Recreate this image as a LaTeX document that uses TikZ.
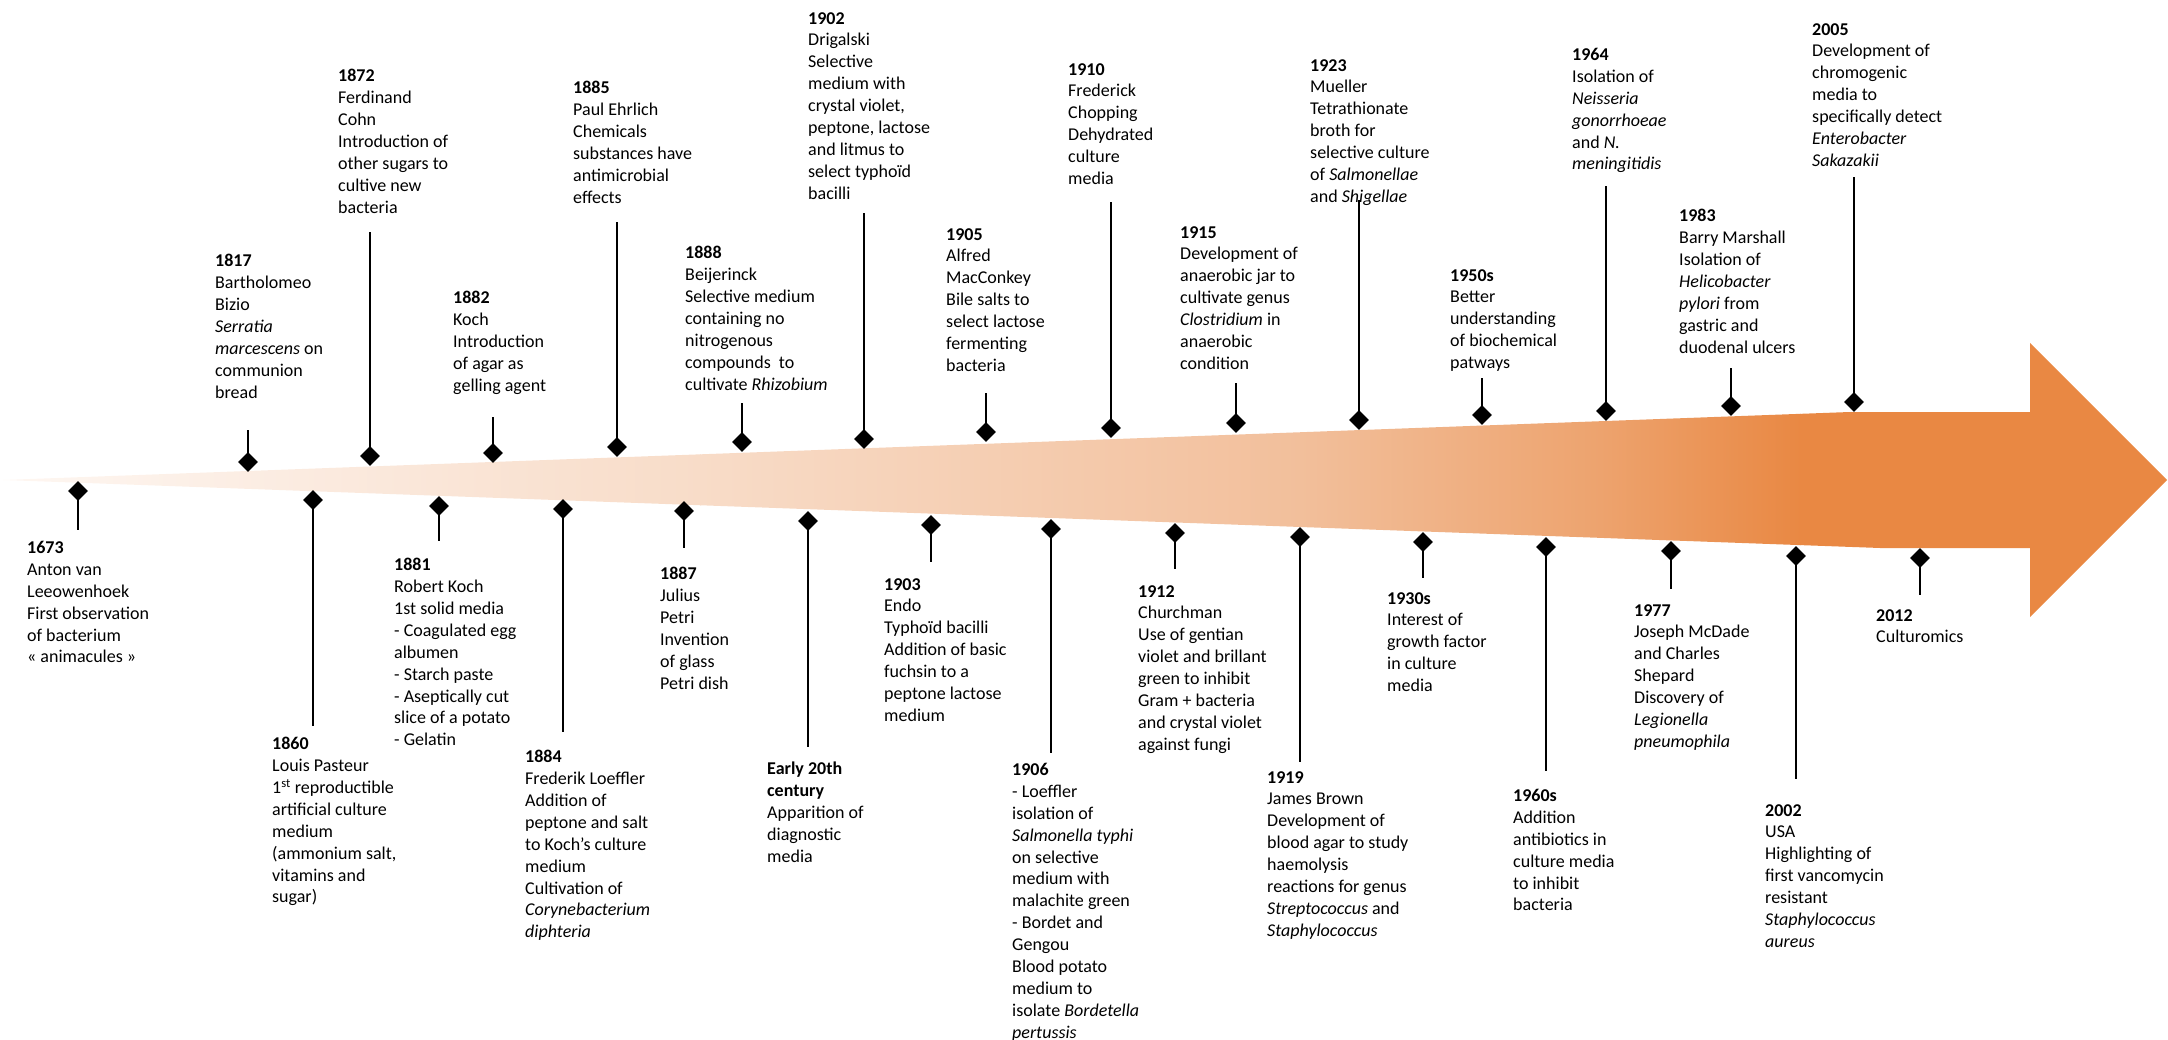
\documentclass[tikz,border=0pt]{standalone}
\usepackage{fontspec}
\setmainfont{Carlito}
\usetikzlibrary{shapes.geometric}
\definecolor{aa0}{HTML}{FEF7F2}
\definecolor{aa1}{HTML}{FBEBE0}
\definecolor{aa2}{HTML}{F8DCC8}
\definecolor{aa3}{HTML}{F2BF9B}
\definecolor{aa4}{HTML}{EDA36E}
\definecolor{aa5}{HTML}{E98843}
\begin{document}
\begin{tikzpicture}[x=1pt,y=-1pt,
  evtext/.style={anchor=north west, inner sep=0pt, align=left, font=\fontsize{18}{21.9}\selectfont},
  marker/.style={diamond, fill=black, inner sep=0pt, minimum width=20pt, minimum height=20pt},
  stem/.style={line width=1.4pt}]
\useasboundingbox (0,0) rectangle (2168,1040);
% arrow
\begin{scope}
\clip (3,480) -- (1850,412) -- (2030,412) -- (2030,343) -- (2167,480) -- (2030,617) -- (2030,548) -- (1880,548) -- cycle;
\shade[left color=aa0, right color=aa1] (0,330) rectangle (301,630);
\shade[left color=aa1, right color=aa2] (300,330) rectangle (701,630);
\shade[left color=aa2, right color=aa3] (700,330) rectangle (1301,630);
\shade[left color=aa3, right color=aa4] (1300,330) rectangle (1601,630);
\shade[left color=aa4, right color=aa5] (1600,330) rectangle (1801,630);
\fill[aa5] (1800,330) rectangle (2168,630);
\end{scope}

% ---- events above ----
\node[marker] (d1817) at (248,462) {};
\coordinate (s1817) at (248,430);
\draw[stem] (d1817.center) -- (s1817);
\node[evtext] (t1817) at (215,254) {\textbf{1817}\\Bartholomeo\\Bizio\\\textit{Serratia}\\\textit{marcescens} on\\communion\\bread};

\node[marker] (d1872) at (370,456) {};
\coordinate (s1872) at (370,232);
\draw[stem] (d1872.center) -- (s1872);
\node[evtext] (t1872) at (338,69) {\textbf{1872}\\Ferdinand\\Cohn\\Introduction of\\other sugars to\\cultive new\\bacteria};

\node[marker] (d1882) at (493,453) {};
\coordinate (s1882) at (493,417);
\draw[stem] (d1882.center) -- (s1882);
\node[evtext] (t1882) at (453,291) {\textbf{1882}\\Koch\\Introduction\\of agar as\\gelling agent};

\node[marker] (d1885) at (617,447) {};
\coordinate (s1885) at (617,222);
\draw[stem] (d1885.center) -- (s1885);
\node[evtext] (t1885) at (573,81) {\textbf{1885}\\Paul Ehrlich\\Chemicals\\substances have\\antimicrobial\\effects};

\node[marker] (d1888) at (742,442) {};
\coordinate (s1888) at (742,403);
\draw[stem] (d1888.center) -- (s1888);
\node[evtext] (t1888) at (685,246) {\textbf{1888}\\Beijerinck\\Selective medium\\containing no\\nitrogenous\\compounds\ \ to\\cultivate \textit{Rhizobium}};

\node[marker] (d1902) at (864,439) {};
\coordinate (s1902) at (864,213);
\draw[stem] (d1902.center) -- (s1902);
\node[evtext] (t1902) at (808,12) {\textbf{1902}\\Drigalski\\Selective\\medium with\\crystal violet,\\peptone, lactose\\and litmus to\\select typhoïd\\bacilli};

\node[marker] (d1905) at (986,432) {};
\coordinate (s1905) at (986,393);
\draw[stem] (d1905.center) -- (s1905);
\node[evtext] (t1905) at (946,228) {\textbf{1905}\\Alfred\\MacConkey\\Bile salts to\\select lactose\\fermenting\\bacteria};

\node[marker] (d1910) at (1111,428) {};
\coordinate (s1910) at (1111,202);
\draw[stem] (d1910.center) -- (s1910);
\node[evtext] (t1910) at (1068,63) {\textbf{1910}\\Frederick\\Chopping\\Dehydrated\\culture\\media};

\node[marker] (d1915) at (1236,423) {};
\coordinate (s1915) at (1236,383);
\draw[stem] (d1915.center) -- (s1915);
\node[evtext] (t1915) at (1180,226) {\textbf{1915}\\Development of\\anaerobic jar to\\cultivate genus\\\textit{Clostridium} in\\anaerobic\\condition};

\node[marker] (d1923) at (1359,420) {};
\coordinate (s1923) at (1359,200);
\draw[stem] (d1923.center) -- (s1923);
\node[evtext] (t1923) at (1310,59) {\textbf{1923}\\Mueller\\Tetrathionate\\broth for\\selective culture\\of \textit{Salmonellae}\\and \textit{Shigellae}};

\node[marker] (d1950) at (1482,415) {};
\coordinate (s1950) at (1482,378);
\draw[stem] (d1950.center) -- (s1950);
\node[evtext] (t1950) at (1450,269) {\textbf{1950s}\\Better\\understanding\\of biochemical\\patways};

\node[marker] (d1964) at (1606,411) {};
\coordinate (s1964) at (1606,186);
\draw[stem] (d1964.center) -- (s1964);
\node[evtext] (t1964) at (1572,48) {\textbf{1964}\\Isolation of\\\textit{Neisseria}\\\textit{gonorrhoeae}\\and \textit{N.}\\\textit{meningitidis}};

\node[marker] (d1983) at (1731,406) {};
\coordinate (s1983) at (1731,368);
\draw[stem] (d1983.center) -- (s1983);
\node[evtext] (t1983) at (1679,209) {\textbf{1983}\\Barry Marshall\\Isolation of\\\textit{Helicobacter}\\\textit{pylori} from\\gastric and\\duodenal ulcers};

\node[marker] (d2005) at (1854,402) {};
\coordinate (s2005) at (1854,177);
\draw[stem] (d2005.center) -- (s2005);
\node[evtext] (t2005) at (1812,23) {\textbf{2005}\\Development of\\chromogenic\\media to\\specifically detect\\\textit{Enterobacter}\\\textit{Sakazakii}};

% ---- events below ----
\node[marker] (d1673) at (78,491) {};
\coordinate (s1673) at (78,530);
\draw[stem] (d1673.center) -- (s1673);
\node[evtext] (t1673) at (27,541) {\textbf{1673}\\Anton van\\Leeowenhoek\\First observation\\of bacterium\\« animacules »};

\node[marker] (d1860) at (313,500) {};
\coordinate (s1860) at (313,726);
\draw[stem] (d1860.center) -- (s1860);
\node[evtext] (t1860) at (272,737) {\textbf{1860}\\Louis Pasteur\\1\textsuperscript{st} reproductible\\artificial culture\\medium\\(ammonium salt,\\vitamins and\\sugar)};

\node[marker] (d1881) at (439,506) {};
\coordinate (s1881) at (439,541);
\draw[stem] (d1881.center) -- (s1881);
\node[evtext] (t1881) at (394,558) {\textbf{1881}\\Robert Koch\\1st solid media\\- Coagulated egg\\albumen\\- Starch paste\\- Aseptically cut\\slice of a potato\\- Gelatin};

\node[marker] (d1884) at (563,509) {};
\coordinate (s1884) at (563,732);
\draw[stem] (d1884.center) -- (s1884);
\node[evtext] (t1884) at (525,750) {\textbf{1884}\\Frederik Loeffler\\Addition of\\peptone and salt\\to Koch’s culture\\medium\\Cultivation of\\\textit{Corynebacterium}\\\textit{diphteria}};

\node[marker] (d1887) at (684,511) {};
\coordinate (s1887) at (684,548);
\draw[stem] (d1887.center) -- (s1887);
\node[evtext] (t1887) at (660,567) {\textbf{1887}\\Julius\\Petri\\Invention\\of glass\\Petri dish};

\node[marker] (dearly) at (808,521) {};
\coordinate (searly) at (808,747);
\draw[stem] (dearly.center) -- (searly);
\node[evtext] (tearly) at (767,762) {\textbf{Early 20th}\\\textbf{century}\\Apparition of\\diagnostic\\media};

\node[marker] (d1903) at (931,525) {};
\coordinate (s1903) at (931,562);
\draw[stem] (d1903.center) -- (s1903);
\node[evtext] (t1903) at (884,578) {\textbf{1903}\\Endo\\Typhoïd bacilli\\Addition of basic\\fuchsin to a\\peptone lactose\\medium};

\node[marker] (d1906) at (1051,529) {};
\coordinate (s1906) at (1051,753);
\draw[stem] (d1906.center) -- (s1906);
\node[evtext] (t1906) at (1012,763) {\textbf{1906}\\- Loeffler\\isolation of\\\textit{Salmonella typhi}\\on selective\\medium with\\malachite green\\- Bordet and\\Gengou\\Blood potato\\medium to\\isolate \textit{Bordetella}\\\textit{pertussis}};

\node[marker] (d1912) at (1175,533) {};
\coordinate (s1912) at (1175,569);
\draw[stem] (d1912.center) -- (s1912);
\node[evtext] (t1912) at (1138,585) {\textbf{1912}\\Churchman\\Use of gentian\\violet and brillant\\green to inhibit\\Gram + bacteria\\and crystal violet\\against fungi};

\node[marker] (d1919) at (1300,537) {};
\coordinate (s1919) at (1300,762);
\draw[stem] (d1919.center) -- (s1919);
\node[evtext] (t1919) at (1267,771) {\textbf{1919}\\James Brown\\Development of\\blood agar to study\\haemolysis\\reactions for genus\\\textit{Streptococcus} and\\\textit{Staphylococcus}};

\node[marker] (d1930) at (1423,542) {};
\coordinate (s1930) at (1423,578);
\draw[stem] (d1930.center) -- (s1930);
\node[evtext] (t1930) at (1387,592) {\textbf{1930s}\\Interest of\\growth factor\\in culture\\media};

\node[marker] (d1960) at (1546,547) {};
\coordinate (s1960) at (1546,771);
\draw[stem] (d1960.center) -- (s1960);
\node[evtext] (t1960) at (1513,789) {\textbf{1960s}\\Addition\\antibiotics in\\culture media\\to inhibit\\bacteria};

\node[marker] (d1977) at (1671,551) {};
\coordinate (s1977) at (1671,589);
\draw[stem] (d1977.center) -- (s1977);
\node[evtext] (t1977) at (1634,604) {\textbf{1977}\\Joseph McDade\\and Charles\\Shepard\\Discovery of\\\textit{Legionella}\\\textit{pneumophila}};

\node[marker] (d2002) at (1796,556) {};
\coordinate (s2002) at (1796,779);
\draw[stem] (d2002.center) -- (s2002);
\node[evtext] (t2002) at (1765,804) {\textbf{2002}\\USA\\Highlighting of\\first vancomycin\\resistant\\\textit{Staphylococcus}\\\textit{aureus}};

\node[marker] (d2012) at (1920,558) {};
\coordinate (s2012) at (1920,595);
\draw[stem] (d2012.center) -- (s2012);
\node[evtext] (t2012) at (1876,609) {\textbf{2012}\\Culturomics};
\end{tikzpicture}
\end{document}
